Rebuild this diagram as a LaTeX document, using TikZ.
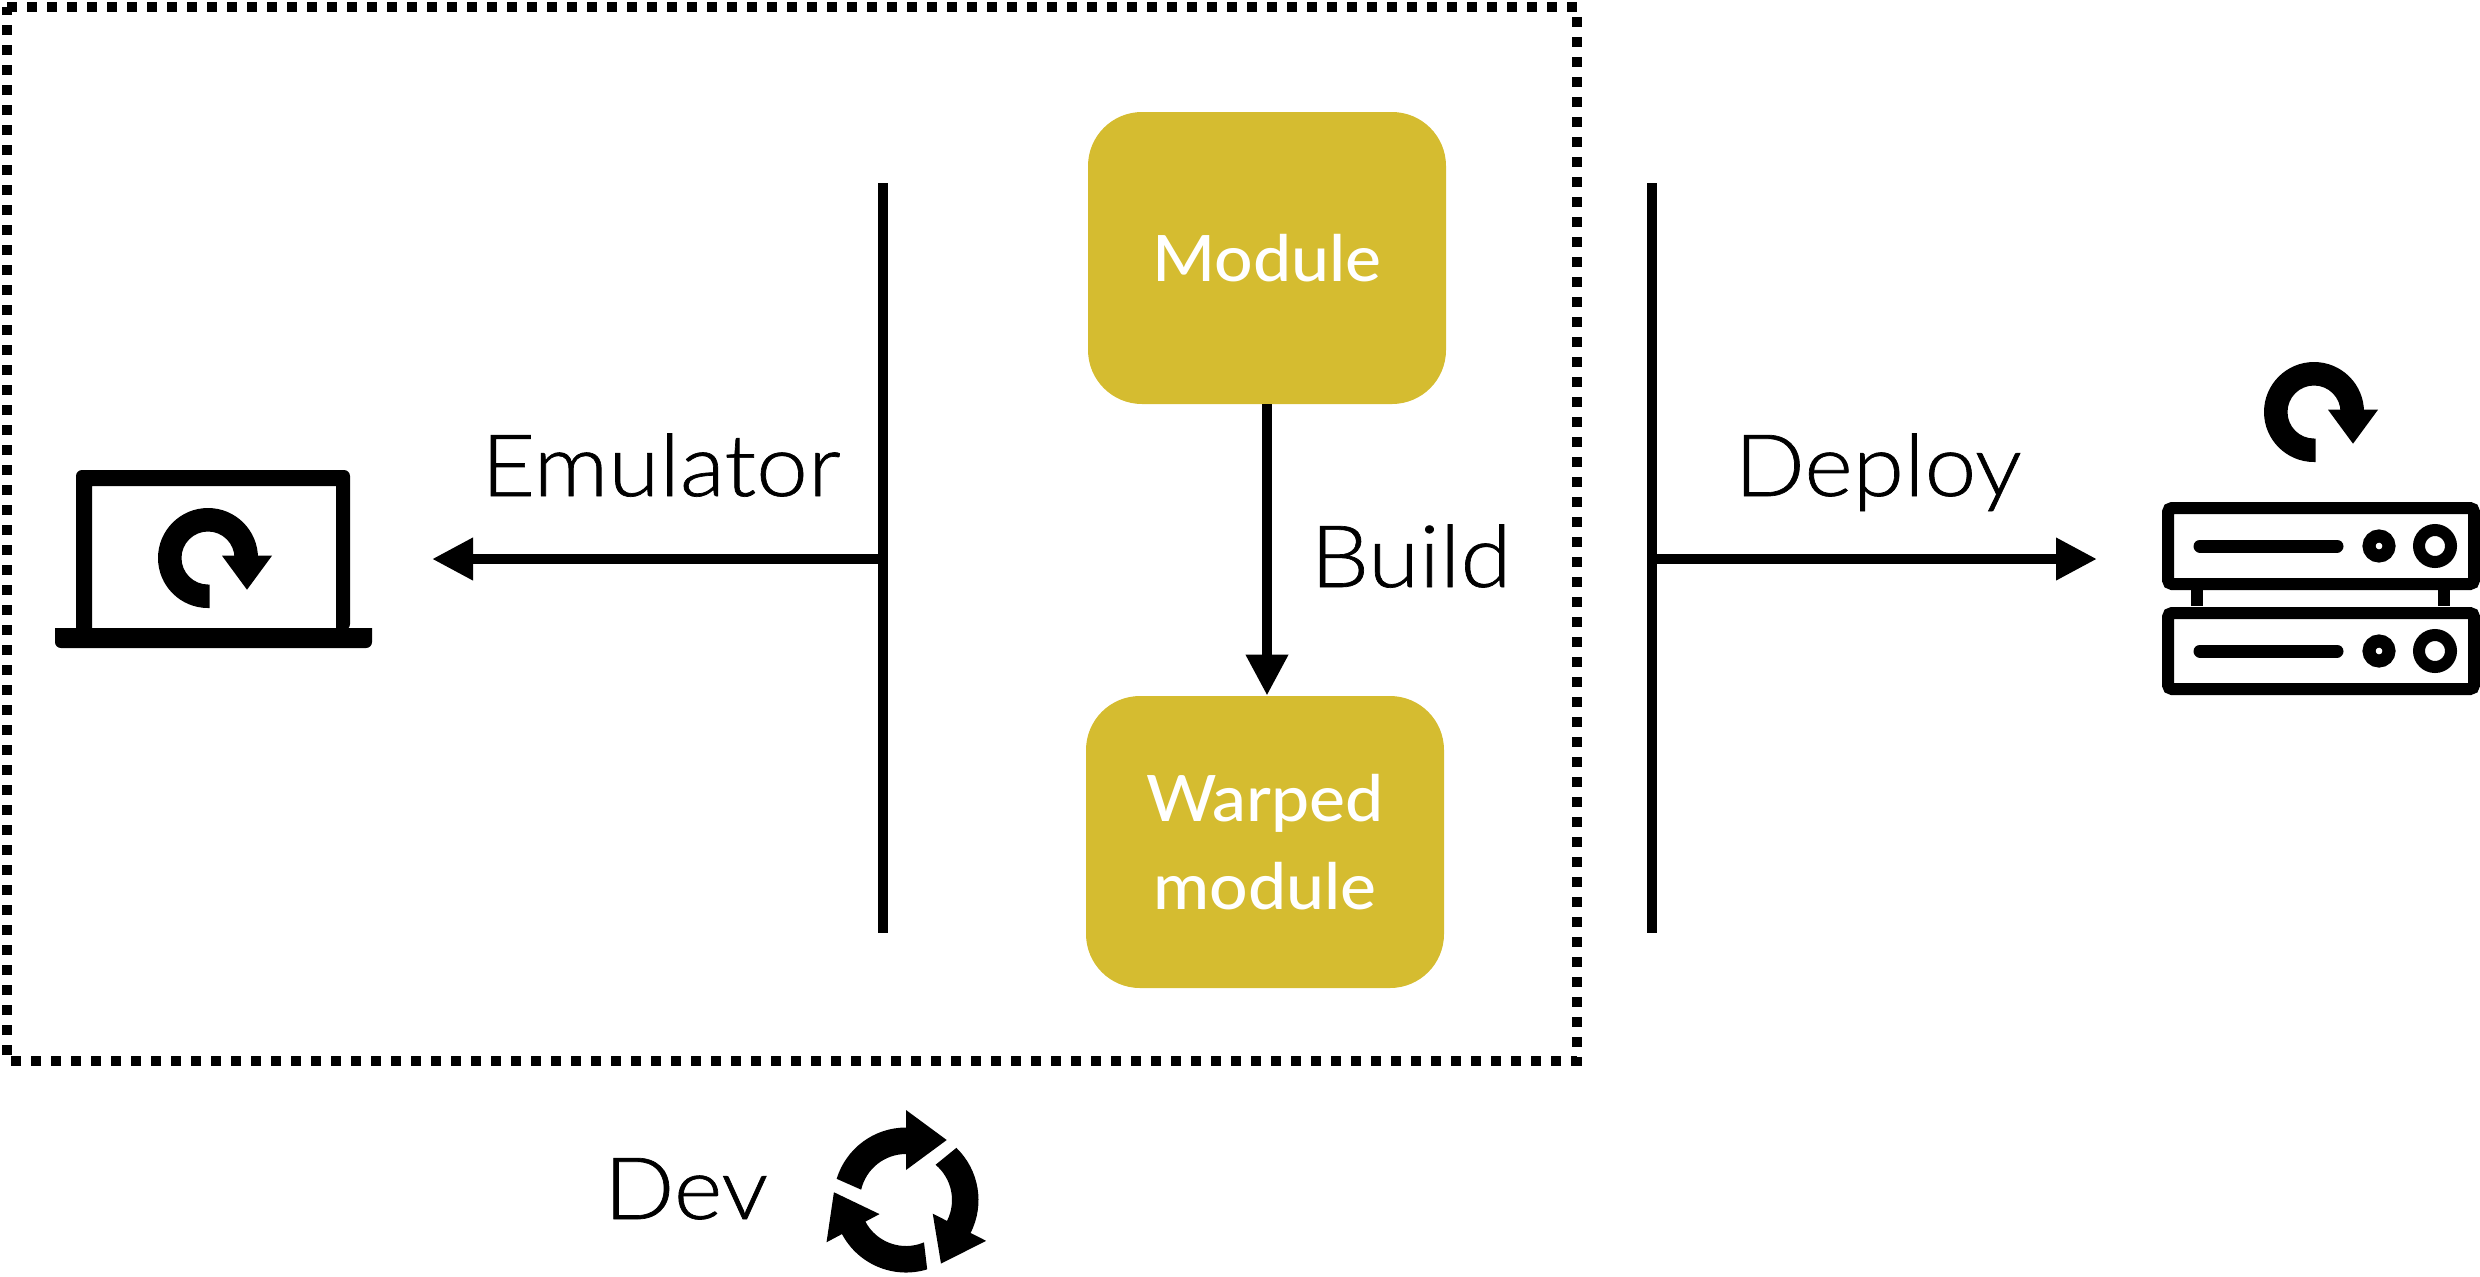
\documentclass[tikz,border=0pt]{standalone}
\usepackage{fontspec}
\setmainfont{Lato}[UprightFont=* Light, FakeStretch=1.08, FakeBold=0.8]
\newfontfamily\boxfont{Lato}[UprightFont=* Medium, FakeStretch=1.06]
\usepackage{xcolor}
\usetikzlibrary{arrows.meta,positioning}
\definecolor{modulegold}{HTML}{D5BC30}
\tikzset{
  x=.5pt, y=.5pt,
  modulebox/.style={rectangle, rounded corners=27pt, fill=modulegold, text=white, align=center, minimum width=179pt, minimum height=146pt, inner sep=0pt, font=\boxfont\fontsize{32}{44}\selectfont},
  steplabel/.style={inner sep=0pt, anchor=base, font=\fontsize{43}{50}\selectfont},
  flowline/.style={line width=5pt, -{Triangle[length=20.5pt,width=20pt]}},
  barline/.style={line width=5pt},
  devframe/.style={line width=5pt, dash pattern=on 5pt off 5pt},
  serverbox/.style={line width=6pt, rounded corners=2pt},
  pics/refreshicon/.style={code={
    \fill (1.5,-50) -- (0,-50) arc[start angle=-90,delta angle=-270,radius=50] -- (26.5,0) arc[start angle=0,delta angle=270,radius=26.5] -- (1.5,-26.5) -- cycle;
    \fill (14,2.3) -- (64,2.3) -- (39,-31.7) -- cycle;
  }}
}
\begin{document}
\begin{tikzpicture}
	\useasboundingbox (0,0) rectangle (2480,-1276);
	\draw[devframe] (7,-7) -- (1577,-7) -- (1577,-1061) -- (7,-1061) -- cycle;

	\node[modulebox] (module) at (1267,-258) {Module};
	\node[modulebox] (warped) at (1265,-842) {Warped\\module};

	\coordinate (leftbartop) at (883,-183);
	\coordinate (leftbarbot) at (883,-933);
	\coordinate (rightbartop) at (1652,-183);
	\coordinate (rightbarbot) at (1652,-933);
	\coordinate (leftstart) at (883,-559);
	\coordinate (rightstart) at (1652,-559);
	\coordinate (emulatorend) at (432,-559);
	\coordinate (deployend) at (2097,-559);

	\draw[barline] (leftbartop) -- (leftbarbot);
	\draw[barline] (rightbartop) -- (rightbarbot);
	\draw[flowline] (leftstart) -- (emulatorend);
	\draw[flowline] (rightstart) -- (deployend);
	\draw[flowline] (module.south) -- (module.south |- warped.north);

	\node[steplabel] (emulatorlabel) at (661,-496) {Emulator};
	\node[steplabel] (deploylabel) at (1878,-496) {Deploy};
	\node[steplabel] (buildlabel) at (1411,-587) {Build};
	\node[steplabel] (devlabel) at (686,-1219) {Dev};

	% laptop
	\fill (76,-630) [rounded corners=3pt] -- (76,-470) -- (350,-470) -- (350,-630) [sharp corners] -- (336,-630) -- (336,-486) -- (92,-486) -- (92,-630) -- cycle;
	\fill (55,-628) -- (372,-628) -- (372,-642) to[out=-90,in=0] (366,-648) -- (61,-648) to[out=180,in=-90] (55,-642) -- cycle;
	\pic at (208,-558) {refreshicon};

	% server
	\pic at (2314,-412) {refreshicon};
	\foreach \y in {0,105} {
		\draw[serverbox] (2168,-508-\y) rectangle (2474,-584-\y);
		\draw[line width=6.5pt, line cap=round] (2200,-546-\y) -- (2337,-546-\y);
		\draw[line width=6.5pt] (2379,-546-\y) circle[radius=10];
		\draw[line width=6pt] (2435,-546-\y) circle[radius=16];
	}
	\fill (2191,-590) rectangle (2203,-606);
	\fill (2438,-590) rectangle (2450,-606);

	% dev cycle
	\foreach \rot/\oa/\ia in {0/163/167,-117/163/167,-242/169/175} {
		\fill[shift={(906,-1200)},rotate=\rot] (\oa:72.5) arc[start angle=\oa,end angle=90,radius=72.5] -- (0,90) -- (40.7,60) -- (0,30) -- (0,46) arc[start angle=90,end angle=\ia,radius=46] -- cycle;
	}
\end{tikzpicture}
\end{document}
